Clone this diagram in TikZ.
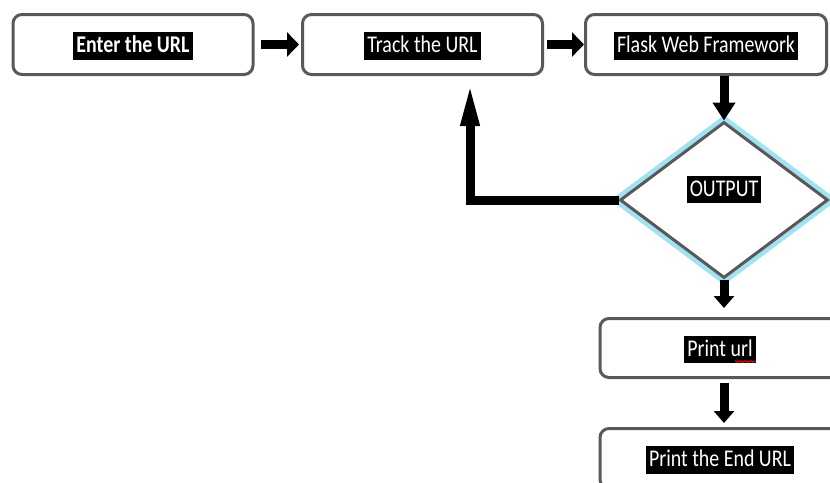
\documentclass[tikz,border=0pt]{standalone}
\usepackage{fontspec}
\setmainfont{Carlito}
\usepackage{tikz, graphicx}
\definecolor{rahmen}{RGB}{89,89,89}
\definecolor{glanz}{RGB}{160,225,242}
\usetikzlibrary{shapes.geometric, arrows.meta, decorations.pathmorphing}
\newcommand{\schmal}[1]{\scalebox{0.83}[1]{#1}}

\begin{document}
\begin{tikzpicture}[x=1pt, y=-1pt,
			kasten/.style={draw=rahmen, line width=3pt, rounded corners=9pt, minimum width=240pt, minimum height=60pt, inner sep=0pt},
			raute/.style={diamond, draw=rahmen, fill=white, line width=3pt, minimum width=208pt, minimum height=156pt, inner sep=0pt, preaction={draw=glanz, line width=12pt}},
			marke/.style={fill=black, text=white, inner xsep=3pt, inner ysep=1.5pt, text height=19pt, text depth=5.5pt, yshift=-1.5pt},
			pfeil/.style={line width=9pt, -{Triangle[length=12pt, width=24pt]}},
			font=\fontsize{24}{28}\selectfont]
			%Bildbereich
			\useasboundingbox (0,0) rectangle (830,482);
			\clip (0,0) rectangle (830,482);
			% Kaesten
			\node[kasten] (enter) at (133,44.5) {};
			\node[kasten] (track) at (422.5,44.5) {};
			\node[kasten, minimum width=241pt] (flask) at (706,44.5) {};
			\node[raute] (out) at (724,200) {};
			\node[kasten, minimum height=59pt] (print) at (720,348) {};
			\node[kasten] (end) at (720,458.5) {};
			% Beschriftung
			\node[marke, font=\fontsize{24}{28}\selectfont\bfseries] (entert) at (enter) {\schmal{Enter the URL}};
			\node[marke] (trackt) at (track) {\schmal{Track the URL}};
			\node[marke] (flaskt) at (flask) {\schmal{Flask Web Framework}};
			\node[marke] (outt) at ([yshift=12pt]out) {\schmal{OUTPUT}};
			\node[marke] (printt) at (print) {\schmal{Print url}};
			\node[marke] (endt) at (end) {\schmal{Print the End URL}};
			\draw[red, line width=0.8pt, decorate, decoration={snake, amplitude=0.8pt, segment length=3pt}]
				([xshift=-21pt,yshift=2pt]printt.south east) -- ([yshift=2pt]printt.south east);
			% Pfeile
			\draw[pfeil, shorten <=6pt, shorten >=2pt] (enter) -- (track);
			\draw[pfeil, shorten <=3pt] (track) -- (flask);
			\draw[pfeil, -{Triangle[length=18pt, width=22pt]}] ([xshift=18pt]flask.south) -- (out.north);
			\draw[pfeil, -{Triangle[length=12pt, width=20pt]}, shorten >=9pt] (out.south) -- (out.south |- print.north);
			\draw[pfeil, -{Triangle[length=12pt, width=20pt]}, shorten <=4pt, shorten >=4pt] (out.south |- print.south) -- (out.south |- end.north);
			% Rueckfuehrung
			\draw[pfeil, -{Triangle[length=44pt, width=17pt]}, shorten >=6pt] (out.west) -| ([xshift=47.5pt]track.south);
		\end{tikzpicture}
\end{document}
